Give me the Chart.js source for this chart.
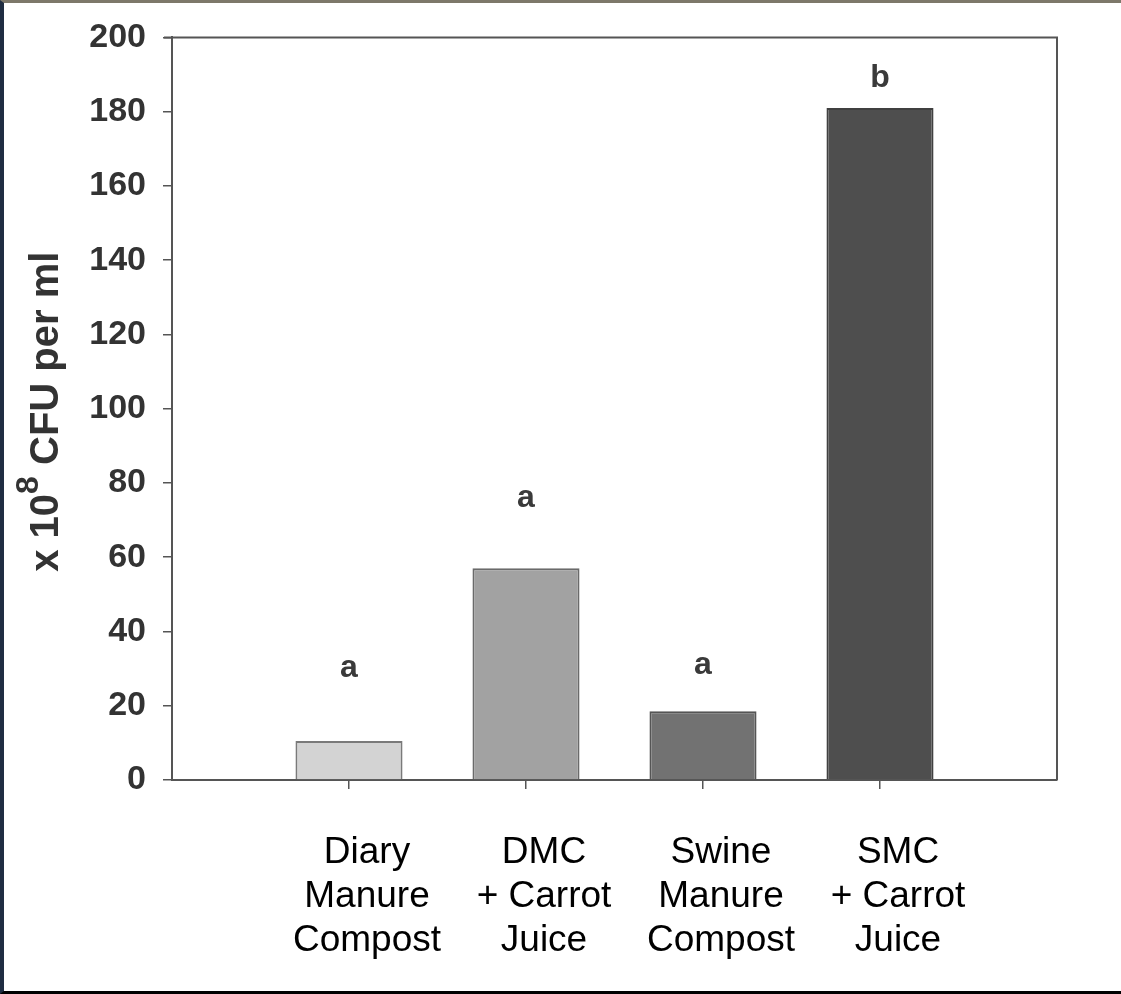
<!DOCTYPE html>
<html>
<head>
<meta charset="utf-8">
<script src="https://cdn.jsdelivr.net/npm/chart.js@4"></script>
<style>
  html, body { margin: 0; padding: 0; background: #fff; }
  #wrap { position: relative; width: 1121px; height: 994px; }
  /* dark edges left over from the scan */
  #scan { position: absolute; left: 0; top: 0; width: 1121px; height: 994px; box-sizing: border-box;
          border-left: 4px solid #1f2d42; border-top: 3px solid #7d786a; border-bottom: 3px solid #000;
          pointer-events: none; }
</style>
</head>
<body>
<div id="wrap">
  <canvas id="myBarChart" width="1121" height="994"></canvas>
  <div id="scan"></div>
</div>
<script>
// data
const categories = [
  ['Diary', 'Manure', 'Compost'],
  ['DMC', '+ Carrot', 'Juice'],
  ['Swine', 'Manure', 'Compost'],
  ['SMC', '+ Carrot', 'Juice']
];
const cfuValues = [10.5, 57, 18.5, 181];
const letters = ['a', 'a', 'a', 'b'];
const letterLevels = [30, 76, 31, 189]; // y value (data units) where each letter sits
const yTicks = [0, 20, 40, 60, 80, 100, 120, 140, 160, 180, 200];

// empty slot on each side so the bars sit at 1..4 of a 0..5 axis
const labels = [''].concat(categories, ['']);
const values = [null].concat(cfuValues, [null]);

const axisColor = '#555';

const lettersPlugin = {
  id: 'letters',
  afterDatasetsDraw(chart) {
    const ctx = chart.ctx;
    const x = chart.scales.x, y = chart.scales.y;
    ctx.save();
    ctx.font = 'bold 32px "Liberation Sans", Arial, sans-serif';
    ctx.fillStyle = '#3a3a3a';
    ctx.textAlign = 'center';
    ctx.textBaseline = 'middle';
    letters.forEach((t, i) => {
      ctx.fillText(t, x.getPixelForValue(i + 1), y.getPixelForValue(letterLevels[i]));
    });
    ctx.restore();
  }
};

// top and right sides of the box + rotated y title with a real superscript
const framePlugin = {
  id: 'frame',
  afterDraw(chart) {
    const ctx = chart.ctx;
    const a = chart.chartArea;
    ctx.save();
    ctx.strokeStyle = axisColor;
    ctx.lineWidth = 2;
    ctx.beginPath();
    ctx.moveTo(a.left - 8, a.top);
    ctx.lineTo(a.right, a.top);
    ctx.lineTo(a.right, a.bottom);
    ctx.stroke();

    const big = 'bold 40px "Liberation Sans", Arial, sans-serif';
    const small = 'bold 32px "Liberation Sans", Arial, sans-serif';
    const p1 = 'x 10', sup = '8', p2 = ' CFU per ml';
    ctx.font = big;
    const w1 = ctx.measureText(p1).width, w3 = ctx.measureText(p2).width;
    ctx.font = small;
    const w2 = ctx.measureText(sup).width;
    const total = w1 + w2 + w3;
    ctx.translate(58, (a.top + a.bottom) / 2 + 3);
    ctx.rotate(-Math.PI / 2);
    ctx.fillStyle = '#333';
    ctx.textBaseline = 'alphabetic';
    ctx.textAlign = 'left';
    let cx = -total / 2;
    ctx.font = big;
    ctx.fillText(p1, cx, 0);
    cx += w1;
    ctx.font = small;
    ctx.fillText(sup, cx, -20);
    cx += w2;
    ctx.font = big;
    ctx.fillText(p2, cx, 0);
    ctx.restore();
  }
};

const ctx = document.getElementById('myBarChart');
new Chart(ctx, {
  type: 'bar',
  data: {
    labels: labels,
    datasets: [{
      data: values,
      backgroundColor: [null, '#d3d3d3', '#a2a2a2', '#727272', '#4e4e4e', null],
      borderColor: [null, '#7a7a7a', '#6a6a6a', '#555555', '#404040', null],
      borderWidth: 2,
      barPercentage: 0.605,
      categoryPercentage: 1
    }]
  },
  options: {
    responsive: false,
    animation: false,
    layout: { padding: { top: 36, right: 64, left: 0, bottom: 0 } },
    plugins: {
      legend: { display: false },
      tooltip: { enabled: false }
    },
    scales: {
      x: {
        type: 'category',
        offset: false,
        border: { display: true, color: axisColor, width: 2 },
        grid: {
          offset: false,
          drawOnChartArea: false,
          tickLength: 9,
          lineWidth: 1.5,
          tickColor: c => (c.index === 0 || c.index === labels.length - 1) ? 'rgba(0,0,0,0)' : axisColor
        },
        ticks: {
          autoSkip: false,
          maxRotation: 0,
          labelOffset: 18,
          padding: 42,
          color: '#000',
          font: { family: '"Liberation Sans", Arial, sans-serif', size: 37, lineHeight: 1.19 }
        },
        afterFit(scale) { scale.height = 214; }
      },
      y: {
        min: 0,
        max: 200,
        border: { display: true, color: axisColor, width: 2 },
        grid: { drawOnChartArea: false, tickLength: 9, lineWidth: 1.5, color: axisColor },
        afterBuildTicks(scale) { scale.ticks = yTicks.map(v => ({ value: v })); },
        ticks: {
          padding: 17,
          color: '#333',
          font: { family: '"Liberation Sans", Arial, sans-serif', size: 34, weight: 'bold' }
        },
        afterFit(scale) { scale.width = 172; }
      }
    }
  },
  plugins: [lettersPlugin, framePlugin]
});
</script>
</body>
</html>
